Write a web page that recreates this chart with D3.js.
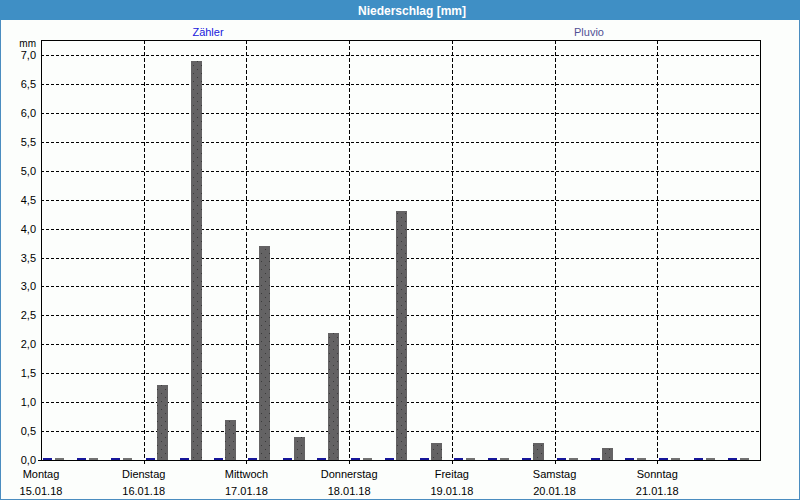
<!DOCTYPE html>
<html><head><meta charset="utf-8">
<script src="https://cdn.jsdelivr.net/npm/d3@7"></script>
<style>body{margin:0;background:#fff}svg{display:block}text{font-family:"Liberation Sans",Arial,sans-serif}</style>
</head><body><svg id="c" width="800" height="500"></svg>
<script>
const title = "Niederschlag [mm]";
const unitLabel = "mm";
const seriesNames = ["Zähler", "Pluvio"];
const dayNames = ["Montag", "Dienstag", "Mittwoch", "Donnerstag", "Freitag", "Samstag", "Sonntag"];
const dayDates = ["15.01.18", "16.01.18", "17.01.18", "18.01.18", "19.01.18", "20.01.18", "21.01.18"];
const dayStarts = ["2018-01-15", "2018-01-16", "2018-01-17", "2018-01-18", "2018-01-19", "2018-01-20", "2018-01-21"];
const slotTimes = [
  "2018-01-15T00:00", "2018-01-15T08:00", "2018-01-15T16:00",
  "2018-01-16T00:00", "2018-01-16T08:00", "2018-01-16T16:00",
  "2018-01-17T00:00", "2018-01-17T08:00", "2018-01-17T16:00",
  "2018-01-18T00:00", "2018-01-18T08:00", "2018-01-18T16:00",
  "2018-01-19T00:00", "2018-01-19T08:00", "2018-01-19T16:00",
  "2018-01-20T00:00", "2018-01-20T08:00", "2018-01-20T16:00",
  "2018-01-21T00:00", "2018-01-21T08:00", "2018-01-21T16:00"];
const zaehler = [0,0,0, 0,0,0, 0,0,0, 0,0,0, 0,0,0, 0,0,0, 0,0,0];
const pluvio  = [0,0,0, 1.3,6.9,0.7, 3.7,0.4,2.2, 0,4.3,0.3, 0,0,0.3, 0,0.2,0, 0,0,0];
const yTicks = [0,0.5,1,1.5,2,2.5,3,3.5,4,4.5,5,5.5,6,6.5,7];
const domainStart = "2018-01-15T00:00", domainEnd = "2018-01-22T00:00";

const parse = d3.timeParse("%Y-%m-%dT%H:%M");
const parseDay = d3.timeParse("%Y-%m-%d");
const L = 41, R = 760, T = 40, B = 460;
const x = d3.scaleTime().domain([parse(domainStart), parse(domainEnd)]).range([L, R]);
const y = d3.scaleLinear().domain([0, 7.26]).range([B, T]);
const de = d3.formatLocale({decimal: ",", thousands: ".", grouping: [3], currency: ["", " €"]});
const fmt = de.format(".1f");

const svg = d3.select("#c");
const blue = "#3f8fc5";
svg.append("rect").attr("width", 800).attr("height", 500).attr("fill", "#fcfefc");
svg.append("rect").attr("x", 0.5).attr("y", 0.5).attr("width", 799).attr("height", 499)
  .attr("fill", "none").attr("stroke", "#4a8dc0");
svg.append("rect").attr("width", 800).attr("height", 20).attr("fill", blue);
svg.append("text").attr("x", 412).attr("y", 15).attr("text-anchor", "middle")
  .attr("fill", "#fff").attr("font-weight", "bold").attr("font-size", 12).text(title);

// legend
const legColors = ["#2020dd", "#505094"];
const legX = [208, 589];
svg.selectAll(".leg").data(seriesNames).join("text").attr("class", "leg")
  .attr("x", (d, i) => legX[i]).attr("y", 36).attr("text-anchor", "middle")
  .attr("font-size", 11).attr("fill", (d, i) => legColors[i]).text(d => d);

// pattern for gray bars
const defs = svg.append("defs");
const pat = defs.append("pattern").attr("id", "dots").attr("patternUnits", "userSpaceOnUse")
  .attr("width", 8).attr("height", 8);
pat.append("rect").attr("width", 8).attr("height", 8).attr("fill", "#646364");
pat.append("rect").attr("x", 1).attr("y", 1).attr("width", 1).attr("height", 1).attr("fill", "#3a3a3a");
pat.append("rect").attr("x", 5).attr("y", 5).attr("width", 1).attr("height", 1).attr("fill", "#3a3a3a");

// grid
const g = svg.append("g").attr("shape-rendering", "crispEdges");
g.selectAll(".hg").data(yTicks.filter(v => v > 0)).join("line").attr("class", "hg")
  .attr("x1", L).attr("x2", R).attr("y1", d => Math.round(y(d)) + 0.5).attr("y2", d => Math.round(y(d)) + 0.5)
  .attr("stroke", "#000").attr("stroke-dasharray", "3,2");
g.selectAll(".vg").data(dayStarts.slice(1)).join("line").attr("class", "vg")
  .attr("x1", d => Math.round(x(parseDay(d))) + 0.5).attr("x2", d => Math.round(x(parseDay(d))) + 0.5)
  .attr("y1", T).attr("y2", B + 4)
  .attr("stroke", "#000").attr("stroke-dasharray", "4,2");

// bars
const bars = svg.append("g").attr("shape-rendering", "crispEdges");
const minH = 2;
bars.selectAll(".bz").data(zaehler).join("rect").attr("class", "bz")
  .attr("x", (d, i) => Math.round(x(parse(slotTimes[i]))) + 2).attr("width", 9)
  .attr("y", d => Math.min(Math.round(y(d)), B - minH)).attr("height", d => Math.max(B - Math.round(y(d)), minH))
  .attr("fill", "#16169a");
bars.selectAll(".bp").data(pluvio).join("rect").attr("class", "bp")
  .attr("x", (d, i) => Math.round(x(parse(slotTimes[i]))) + (d > 0 ? 13 : 14)).attr("width", d => d > 0 ? 11 : 9)
  .attr("y", d => Math.min(Math.round(y(d)), B - minH)).attr("height", d => Math.max(B - Math.round(y(d)), minH))
  .attr("fill", d => d > 0 ? "url(#dots)" : "#727272");

// frame
const f = svg.append("g").attr("shape-rendering", "crispEdges").attr("stroke", "#000");
f.append("line").attr("x1", L + 0.5).attr("x2", L + 0.5).attr("y1", T).attr("y2", B + 1);
f.append("line").attr("x1", R + 0.5).attr("x2", R + 0.5).attr("y1", T).attr("y2", B + 1);
f.append("line").attr("x1", L).attr("x2", R + 1).attr("y1", T + 0.5).attr("y2", T + 0.5);
f.append("line").attr("x1", L - 3).attr("x2", R + 1).attr("y1", B + 0.5).attr("y2", B + 0.5);

// y axis labels
const ya = svg.append("g").attr("transform", `translate(${L - 5},0)`)
  .call(d3.axisLeft(y).tickValues(yTicks).tickFormat(fmt).tickSize(0).tickPadding(0));
ya.select(".domain").remove();
ya.selectAll("text").attr("font-size", 11).attr("fill", "#000")
  .attr("font-family", "'Liberation Sans',Arial,sans-serif");
svg.append("text").attr("x", 36).attr("y", 47).attr("text-anchor", "end").attr("font-size", 10).text(unitLabel);

// x axis labels
const xl = svg.append("g");
xl.selectAll(".dn").data(dayNames).join("text").attr("class", "dn")
  .attr("x", (d, i) => x(parseDay(dayStarts[i]))).attr("y", 478).attr("text-anchor", "middle")
  .attr("font-size", 11).text(d => d);
xl.selectAll(".dd").data(dayDates).join("text").attr("class", "dd")
  .attr("x", (d, i) => x(parseDay(dayStarts[i]))).attr("y", 495).attr("text-anchor", "middle")
  .attr("font-size", 11).text(d => d);
</script></body></html>
